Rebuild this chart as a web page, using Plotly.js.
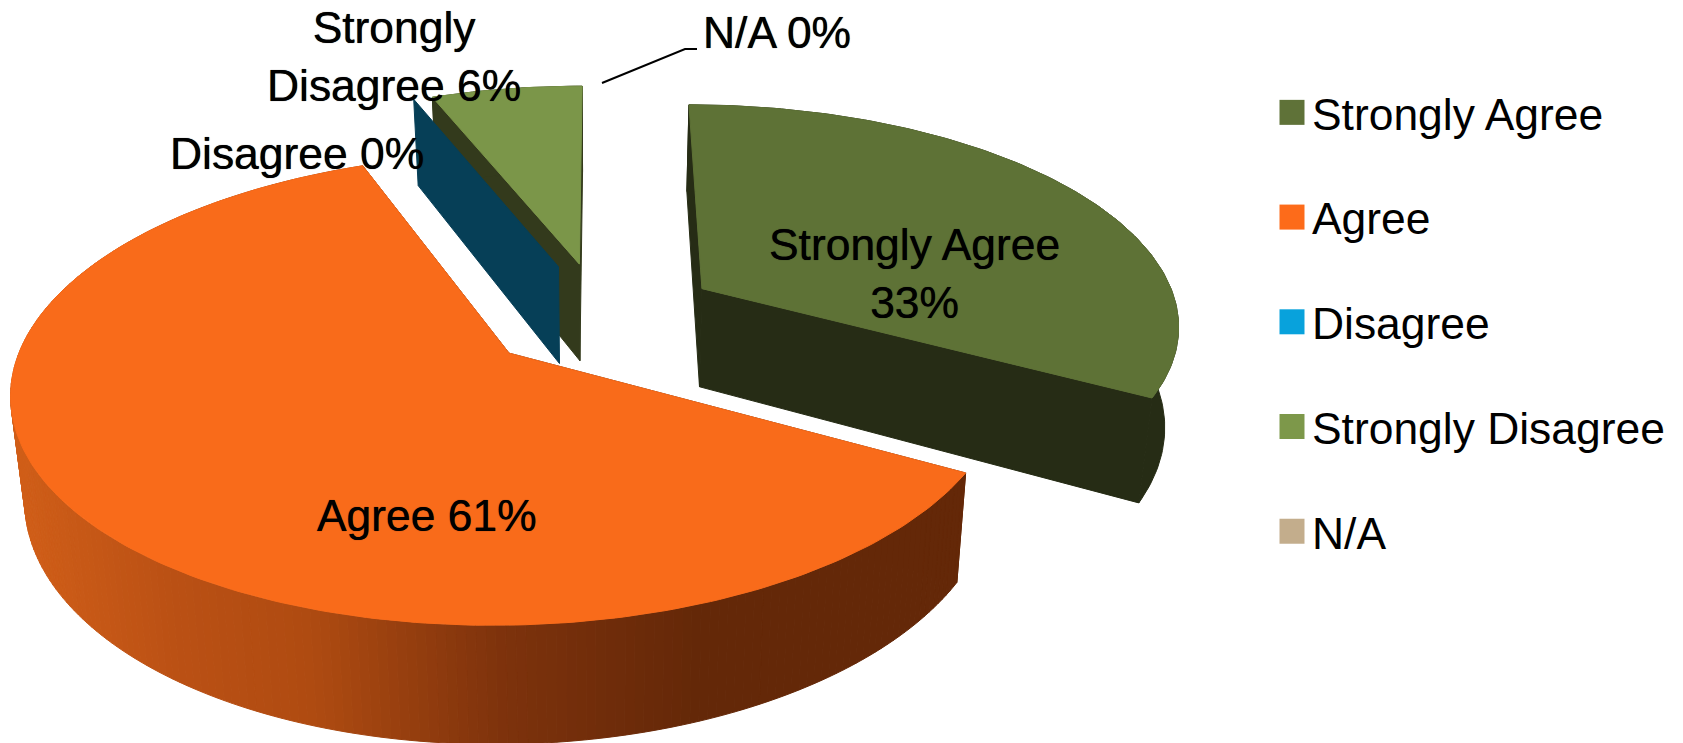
<!DOCTYPE html>
<html><head><meta charset="utf-8">
<script src="https://cdn.plot.ly/plotly-3.0.1.min.js"></script>
<style>html,body{margin:0;padding:0;background:#fff}</style>
</head><body><div id="chart" style="width:1683px;height:743px"></div>
<script>
const categories = ["Strongly Agree", "Agree", "Disagree", "Strongly Disagree", "N/A"];
const percents = [33, 61, 0, 6, 0];
const legendColors = ["#5f7238", "#fd6b1a", "#08a2dc", "#7d984a", "#c3ad8c"];
const topColors = ["#5e7236", "#f96b1a", "#08a2dc", "#7b9649", "#c3ad8c"];
const sideColors = ["#262c15", "#652a08", "#063f57", "#333a1c", "#8a7a60"];
const labelLines = ["Strongly Agree<br>33%", "Agree 61%", "Disagree 0%", "Strongly<br>Disagree 6%", "N/A 0%"];
const labelX = [914, 427, 297, 394, 777];
const labelY = [273, 515, 153, 56, 32];
const leaderX = [602, 685, 697];
const leaderY = [83, 49, 49];
const wallShade = [[27,208,94,24],[190,186,80,20],[320,175,75,17],[510,125,50,12],[700,100,40,8],[1000,100,40,8]];

// projection of the tilted pie
const view = {cx: 601, cy: 316, A: 478, B: 219, k: 0.15, pull: 0.25};
const FONT = "'Liberation Sans', Arial, sans-serif";
const rad = d => d * Math.PI / 180;
function proj(X, Y) { const w = 1 + view.k * Y; return [view.cx + view.A * X / w, view.cy - view.B * Y / w]; }
function drop(p) { return [p[0] - (p[0] - 600) * 0.024, p[1] + 98 + (p[1] - 287) * 0.062]; }
function poly(pts, color, extra) {
  return Object.assign({type: "scatter", mode: "lines", x: pts.map(p => p[0]), y: pts.map(p => p[1]),
    fill: "toself", fillcolor: color, line: {color: color, width: 1}, showlegend: false, hoverinfo: "skip"}, extra || {});
}
function shade(x) {
  for (let i = 1; i < wallShade.length; i++) {
    if (x <= wallShade[i][0]) {
      const a = wallShade[i - 1], b = wallShade[i], t = Math.max(0, (x - a[0]) / (b[0] - a[0]));
      return `rgb(${[1,2,3].map(j => Math.round(a[j] + (b[j] - a[j]) * t)).join(",")})`;
    }
  }
  return "rgb(100,40,8)";
}

const traces = [];
// legend entries
categories.forEach((c, i) => traces.push({type: "scatter", mode: "markers", x: [null], y: [null], name: c,
  legendgroup: c, marker: {symbol: "square", size: 16, color: legendColors[i]}, hoverinfo: "skip"}));

// wedge angular ranges from the values
const total = percents.reduce((a, b) => a + b, 0);
let acc = 0;
const wedges = percents.map((v, i) => {
  const start = acc / total * 360; acc += v; const end = acc / total * 360;
  const mid = rad((start + end) / 2);
  return {i, start, end, ox: view.pull * Math.sin(mid), oy: view.pull * Math.cos(mid)};
});
function point(w, deg, r) { return proj(w.ox + r * Math.sin(rad(deg)), w.oy + r * Math.cos(rad(deg))); }
function arc(w) {
  const out = [], n = Math.max(1, Math.ceil(w.end - w.start));
  for (let j = 0; j <= n; j++) out.push(point(w, w.start + (w.end - w.start) * j / n, 1));
  return out;
}
function cutFace(w, deg, color) {
  const a = point(w, deg, 0), b = point(w, deg, 1);
  return poly([a, b, drop(b), drop(a), a], color);
}
function solid(w) {
  const i = w.i;
  if (w.end > w.start) {
    const pts = arc(w);
    traces.push(cutFace(w, w.start, sideColors[i]));
    traces.push(cutFace(w, w.end, sideColors[i]));
    if (i === 1) {
      for (let j = 0; j < pts.length - 1; j++) {
        const q = [pts[j], pts[j + 1], drop(pts[j + 1]), drop(pts[j]), pts[j]];
        traces.push(poly(q, shade(drop(pts[j])[0])));
      }
    } else {
      traces.push(poly(pts.concat(pts.map(drop).reverse()).concat([pts[0]]), sideColors[i]));
    }
    const a = point(w, 0, 0);
    traces.push(poly([a].concat(pts, [a]), topColors[i], {hoverinfo: "text", text: categories[i] + " " + percents[i] + "%", hoveron: "fills"}));
  } else if (percents[i] === 0 && i === 2) {
    traces.push(cutFace(w, w.start, sideColors[i]));
  }
}
[0, 1, 3, 2].forEach(i => solid(wedges[i]));

traces.push({type: "scatter", mode: "lines", x: leaderX, y: leaderY, line: {color: "#000", width: 2}, showlegend: false, hoverinfo: "skip"});

const annotations = labelLines.map((t, i) => ({text: t, x: labelX[i], y: labelY[i], xref: "x", yref: "y",
  showarrow: false, align: "center", xanchor: "center", yanchor: "middle",
  font: {family: FONT, size: 44.4, color: "#000", shadow: "0 0 0.7px #000"}}));

Plotly.newPlot("chart", traces, {
  width: 1683, height: 743, margin: {l: 0, r: 0, t: 0, b: 0}, paper_bgcolor: "#fff", plot_bgcolor: "#fff",
  xaxis: {range: [0, 1683], visible: false, fixedrange: true},
  yaxis: {range: [743, 0], visible: false, fixedrange: true},
  annotations: annotations,
  legend: {x: 1272 / 1683, xanchor: "left", y: 1 - 77 / 743, yanchor: "top", traceorder: "grouped", tracegroupgap: 44,
    font: {family: FONT, size: 44.4, color: "#000"}, bgcolor: "rgba(0,0,0,0)", itemclick: false, itemdoubleclick: false}
}, {displayModeBar: false}).then(gd => {
  // legend swatches are capped by the library; enlarge them to the reference's 25px squares
  gd.querySelectorAll(".legendpoints path.scatterpts").forEach(p => {
    const t = p.getAttribute("transform") || "";
    p.setAttribute("transform", t + " scale(1.5625)");
  });
});
</script></body></html>
